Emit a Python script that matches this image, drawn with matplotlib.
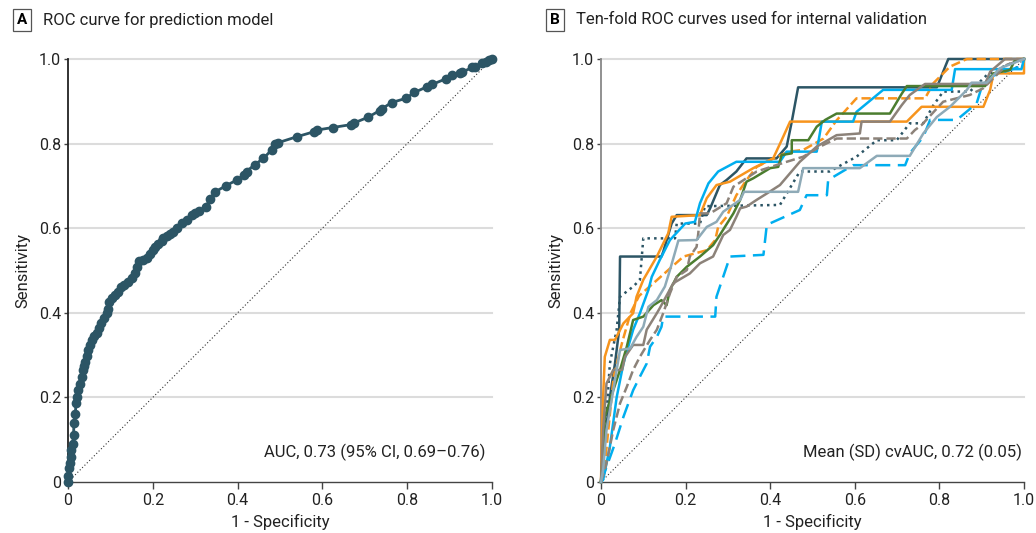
import numpy as np
import matplotlib
matplotlib.use("Agg")
import matplotlib.pyplot as plt

plt.rcParams['font.family'] = ['Liberation Sans Narrow', 'Roboto', 'DejaVu Sans']

# panel A: overall ROC curve
roc_fpr = [0, 0.0, 0.002, 0.004, 0.006, 0.008, 0.011, 0.013, 0.014, 0.017, 0.019, 0.022, 0.024, 0.028,
           0.032, 0.035, 0.038, 0.040, 0.044, 0.048, 0.052, 0.056, 0.062, 0.068, 0.074, 0.079, 0.085,
           0.091, 0.094, 0.097, 0.104, 0.111, 0.118, 0.124, 0.133, 0.142, 0.150, 0.158, 0.163, 0.168,
           0.177, 0.186, 0.194, 0.201, 0.205, 0.213, 0.221, 0.225, 0.233, 0.241, 0.248, 0.258, 0.268,
           0.280, 0.292, 0.300, 0.310, 0.325, 0.335, 0.347, 0.372, 0.398, 0.415, 0.421, 0.440, 0.461,
           0.480, 0.488, 0.495, 0.539, 0.580, 0.587, 0.624, 0.668, 0.675, 0.707, 0.735, 0.740, 0.763,
           0.797, 0.817, 0.846, 0.859, 0.891, 0.905, 0.925, 0.929, 0.954, 0.960, 0.976, 0.985, 0.993, 1.0]
roc_tpr = [0, 0.015, 0.032, 0.045, 0.060, 0.075, 0.091, 0.110, 0.139, 0.160, 0.186, 0.200, 0.217, 0.232,
           0.249, 0.265, 0.275, 0.284, 0.298, 0.312, 0.325, 0.336, 0.344, 0.352, 0.363, 0.375, 0.388,
           0.399, 0.410, 0.426, 0.434, 0.442, 0.450, 0.460, 0.466, 0.473, 0.482, 0.493, 0.508, 0.523,
           0.526, 0.529, 0.538, 0.548, 0.555, 0.563, 0.570, 0.576, 0.581, 0.586, 0.592, 0.600, 0.612,
           0.620, 0.631, 0.636, 0.641, 0.651, 0.668, 0.686, 0.700, 0.714, 0.725, 0.734, 0.750, 0.765,
           0.785, 0.800, 0.802, 0.816, 0.828, 0.832, 0.838, 0.845, 0.849, 0.862, 0.878, 0.882, 0.897,
           0.907, 0.921, 0.934, 0.940, 0.953, 0.962, 0.968, 0.969, 0.980, 0.982, 0.990, 0.994, 0.998, 1.0]

# panel B: ten folds
f1_fpr = [0, 0.002, 0.021, 0.033, 0.043, 0.045, 0.143, 0.147, 0.167, 0.179, 0.25, 0.258, 0.281, 0.297, 0.32, 0.344, 0.415, 0.439, 0.451, 0.466, 0.794, 0.821, 0.95, 1.0]
f1_tpr = [0, 0.044, 0.2, 0.28, 0.36, 0.533, 0.533, 0.544, 0.611, 0.631, 0.631, 0.647, 0.702, 0.714, 0.734, 0.765, 0.765, 0.793, 0.852, 0.933, 0.933, 1.0, 1.0, 1.0]
f2_fpr = [0, 0.005, 0.021, 0.037, 0.045, 0.076, 0.092, 0.1, 0.175, 0.179, 0.234, 0.246, 0.423, 0.47, 0.54, 0.604, 0.652, 0.699, 0.73, 0.762, 0.786, 0.809, 0.872, 0.912, 0.959, 1.0]
f2_tpr = [0, 0.044, 0.28, 0.36, 0.438, 0.462, 0.478, 0.576, 0.576, 0.611, 0.611, 0.652, 0.655, 0.734, 0.734, 0.769, 0.808, 0.808, 0.848, 0.848, 0.891, 0.923, 0.923, 0.962, 0.986, 1.0]
f3_fpr = [0, 0.002, 0.005, 0.009, 0.021, 0.033, 0.053, 0.076, 0.084, 0.1, 0.132, 0.155, 0.159, 0.167, 0.234, 0.242, 0.25, 0.273, 0.305, 0.36, 0.407, 0.427, 0.447, 0.723, 0.758, 0.904, 0.92, 0.928, 1.0, 1.0]
f3_tpr = [0, 0.1, 0.2, 0.296, 0.336, 0.336, 0.375, 0.399, 0.438, 0.478, 0.533, 0.58, 0.588, 0.627, 0.631, 0.651, 0.671, 0.702, 0.71, 0.742, 0.765, 0.808, 0.852, 0.852, 0.887, 0.887, 0.927, 0.966, 0.966, 1.0]
f4_fpr = [0, 0.01, 0.02, 0.03, 0.05, 0.07, 0.09, 0.124, 0.195, 0.25, 0.27, 0.277, 0.297, 0.32, 0.344, 0.368, 0.4, 0.443, 0.478, 0.526, 0.557, 0.604, 0.766, 0.786, 0.825, 0.865, 1.0]
f4_tpr = [0, 0.05, 0.15, 0.25, 0.33, 0.4, 0.44, 0.47, 0.533, 0.548, 0.572, 0.603, 0.627, 0.678, 0.714, 0.745, 0.761, 0.781, 0.785, 0.812, 0.855, 0.907, 0.907, 0.943, 0.982, 1.0, 1.0]
f5_fpr = [0, 0.005, 0.021, 0.037, 0.053, 0.076, 0.092, 0.112, 0.12, 0.139, 0.163, 0.199, 0.222, 0.234, 0.254, 0.277, 0.32, 0.423, 0.439, 0.51, 0.522, 0.596, 0.604, 0.667, 0.829, 0.837, 0.994, 1.0]
f5_tpr = [0, 0.005, 0.083, 0.2, 0.28, 0.36, 0.399, 0.454, 0.485, 0.525, 0.572, 0.611, 0.615, 0.659, 0.706, 0.734, 0.757, 0.757, 0.781, 0.781, 0.852, 0.852, 0.875, 0.927, 0.927, 0.976, 0.976, 1.0]
f6_fpr = [0, 0.005, 0.033, 0.053, 0.076, 0.092, 0.108, 0.116, 0.132, 0.143, 0.147, 0.27, 0.273, 0.305, 0.384, 0.392, 0.47, 0.486, 0.534, 0.537, 0.596, 0.719, 0.73, 0.762, 0.778, 0.841, 0.888, 0.9, 0.92, 0.99, 1.0]
f6_tpr = [0, 0.013, 0.091, 0.154, 0.217, 0.249, 0.28, 0.32, 0.343, 0.367, 0.391, 0.391, 0.438, 0.533, 0.537, 0.608, 0.643, 0.678, 0.678, 0.714, 0.749, 0.749, 0.777, 0.816, 0.856, 0.856, 0.895, 0.934, 0.958, 0.982, 1.0]
f7_fpr = [0, 0.009, 0.029, 0.045, 0.061, 0.076, 0.1, 0.124, 0.143, 0.155, 0.163, 0.179, 0.203, 0.234, 0.265, 0.281, 0.313, 0.329, 0.344, 0.36, 0.4, 0.419, 0.427, 0.451, 0.451, 0.49, 0.51, 0.53, 0.557, 0.683, 0.711, 0.723, 0.908, 0.928, 0.967, 0.979, 1.0]
f7_tpr = [0, 0.154, 0.217, 0.265, 0.32, 0.383, 0.391, 0.418, 0.43, 0.418, 0.454, 0.485, 0.509, 0.533, 0.56, 0.584, 0.635, 0.667, 0.71, 0.718, 0.742, 0.745, 0.773, 0.777, 0.808, 0.808, 0.84, 0.856, 0.871, 0.871, 0.918, 0.936, 0.936, 0.966, 0.974, 0.998, 1.0]
f8_fpr = [0, 0.005, 0.013, 0.029, 0.05, 0.057, 0.076, 0.1, 0.108, 0.132, 0.139, 0.171, 0.21, 0.234, 0.265, 0.289, 0.305, 0.32, 0.329, 0.344, 0.368, 0.392, 0.423, 0.47, 0.51, 0.557, 0.612, 0.616, 0.683, 0.711, 0.73, 0.766, 0.908, 0.92, 0.955, 1.0]
f8_tpr = [0, 0.123, 0.233, 0.265, 0.265, 0.296, 0.324, 0.324, 0.36, 0.399, 0.411, 0.47, 0.493, 0.517, 0.533, 0.584, 0.596, 0.627, 0.647, 0.651, 0.667, 0.682, 0.702, 0.757, 0.793, 0.82, 0.824, 0.852, 0.852, 0.891, 0.915, 0.941, 0.941, 0.97, 1.0, 1.0]
f9_fpr = [0, 0.013, 0.029, 0.045, 0.061, 0.076, 0.092, 0.116, 0.132, 0.147, 0.163, 0.179, 0.203, 0.21, 0.226, 0.23, 0.234, 0.258, 0.297, 0.313, 0.368, 0.439, 0.478, 0.518, 0.557, 0.723, 0.742, 0.758, 0.794, 0.809, 0.872, 0.904, 0.959, 1.0]
f9_tpr = [0, 0.044, 0.123, 0.186, 0.225, 0.265, 0.296, 0.336, 0.36, 0.399, 0.446, 0.485, 0.501, 0.533, 0.556, 0.588, 0.635, 0.635, 0.659, 0.698, 0.734, 0.757, 0.769, 0.793, 0.812, 0.812, 0.832, 0.844, 0.883, 0.899, 0.915, 0.931, 0.986, 1.0]
f10_fpr = [0, 0.005, 0.013, 0.029, 0.045, 0.069, 0.084, 0.1, 0.112, 0.132, 0.151, 0.163, 0.183, 0.226, 0.25, 0.273, 0.289, 0.329, 0.338, 0.466, 0.478, 0.612, 0.652, 0.73, 0.762, 0.794, 0.825, 0.865, 0.876, 0.912, 0.943, 1.0]
f10_tpr = [0, 0.028, 0.123, 0.217, 0.312, 0.316, 0.343, 0.367, 0.414, 0.43, 0.462, 0.501, 0.571, 0.572, 0.603, 0.615, 0.639, 0.667, 0.686, 0.686, 0.742, 0.742, 0.771, 0.771, 0.824, 0.863, 0.887, 0.927, 0.944, 0.944, 0.978, 1.0]

teal = '#2c5565'
orange = '#f7941d'
blue = '#00aeef'
green = '#4b7d2f'
taupe = '#8c8279'
steel = '#8eaab7'

folds = [
    (f1_fpr, f1_tpr, teal, '-'),
    (f2_fpr, f2_tpr, teal, ':'),
    (f3_fpr, f3_tpr, orange, '-'),
    (f4_fpr, f4_tpr, orange, '--'),
    (f5_fpr, f5_tpr, blue, '-'),
    (f6_fpr, f6_tpr, blue, (0, (6, 3))),
    (f7_fpr, f7_tpr, green, '-'),
    (f8_fpr, f8_tpr, taupe, '-'),
    (f9_fpr, f9_tpr, taupe, '--'),
    (f10_fpr, f10_tpr, steel, '-'),
]

fig = plt.figure(figsize=(10.36, 5.33), dpi=100)
axA = fig.add_axes([68/1036, 51/533, 424/1036, 423/533])
axB = fig.add_axes([601/1036, 51/533, 423/1036, 423/533])


def style(ax, spine_color):
    ax.set_xlim(0, 1)
    ax.set_ylim(0, 1)
    ax.set_xticks([0, 0.2, 0.4, 0.6, 0.8, 1.0])
    ax.set_xticklabels(['0', '0.2', '0.4', '0.6', '0.8', '1.0'])
    ax.set_yticks([0, 0.2, 0.4, 0.6, 0.8, 1.0])
    ax.set_yticklabels(['0', '0.2', '0.4', '0.6', '0.8', '1.0'])
    for s in ['top', 'right']:
        ax.spines[s].set_visible(False)
    ax.spines['left'].set_color(spine_color)
    ax.spines['bottom'].set_color('#444444')
    ax.spines['left'].set_linewidth(1.3)
    ax.spines['bottom'].set_linewidth(1.0)
    ax.tick_params(axis='x', length=5, width=1, color='#444444', labelsize=11.5, labelcolor='#222222', pad=3)
    ax.tick_params(axis='y', length=3, width=1, color='#444444', labelsize=11.5, labelcolor='#222222', pad=2)
    for y in [0.2, 0.4, 0.6, 0.8, 1.0]:
        ax.axhline(y, color='#dcdcdc', lw=1.5, zorder=0, clip_on=False)
    ax.plot([0, 1], [0, 1], ls=(0, (1, 2)), color='#333333', lw=0.8, zorder=1)
    ax.set_xlabel('1 - Specificity', fontsize=12, color='#222222', labelpad=4)
    ax.set_ylabel('Sensitivity', fontsize=12, color='#222222', labelpad=6)


style(axA, '#222222')
style(axB, '#888888')

axA.plot(roc_fpr, roc_tpr, color=teal, lw=2, marker='o', ms=6, zorder=3, clip_on=False)
axA.text(0.985, 0.07, 'AUC, 0.73 (95% CI, 0.69–0.76)', ha='right', va='center',
         fontsize=12, color='#222222', transform=axA.transAxes)

for fx, fy, c, ls in folds:
    axB.plot(fx, fy, color=c, ls=ls, lw=1.8, zorder=3, clip_on=False)
axB.text(0.995, 0.07, 'Mean (SD) cvAUC, 0.72 (0.05)', ha='right', va='center',
         fontsize=12, color='#222222', transform=axB.transAxes)

box = dict(boxstyle='square,pad=0.25', fc='white', ec='#555555', lw=0.9)
fig.text(22/1036, 1 - 20/533, 'A', ha='center', va='center', fontsize=11, fontweight='bold', bbox=box)
fig.text(43/1036, 1 - 20/533, 'ROC curve for prediction model', ha='left', va='center', fontsize=12, color='#222222')
fig.text(555/1036, 1 - 20/533, 'B', ha='center', va='center', fontsize=11, fontweight='bold', bbox=box)
fig.text(576/1036, 1 - 20/533, 'Ten-fold ROC curves used for internal validation', ha='left', va='center', fontsize=12, color='#222222')

fig.savefig('out.png', dpi=100)
